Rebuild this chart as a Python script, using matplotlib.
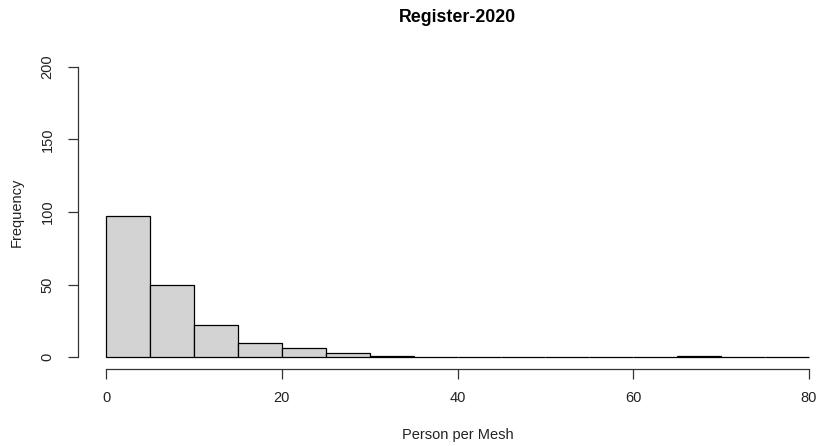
import matplotlib
matplotlib.use("Agg")
import matplotlib.pyplot as plt
import numpy as np

plt.rcParams['font.family'] = ['Liberation Sans', 'DejaVu Sans']

# Histogram bins (width 5) and counts per bin
bin_edges = [0, 5, 10, 15, 20, 25, 30, 35, 40, 45, 50, 55, 60, 65, 70, 75, 80]
counts = [97, 50, 22, 10, 6, 3, 1, 0, 0, 0, 0, 0, 0, 1, 0, 0]
x_ticks = [0, 20, 40, 60, 80]
y_ticks = [0, 50, 100, 150, 200]
title = "Register-2020"
x_label = "Person per Mesh"
y_label = "Frequency"

W, H = 822, 446
fig = plt.figure(figsize=(W / 100, H / 100), dpi=100)
left, right = 78, 837
top, bottom = 55.4, 368.6
ax = fig.add_axes([left / W, (H - bottom) / H, (right - left) / W, (bottom - top) / H])

lefts = bin_edges[:-1]
widths = np.diff(bin_edges)
ax.bar(lefts, counts, width=widths, align='edge', color='#D3D3D3',
       edgecolor='black', linewidth=0.9)

ax.set_xlim(-3.2, 83.2)
ax.set_ylim(-8, 208)

for s in ['top', 'right']:
    ax.spines[s].set_visible(False)
ax.spines['bottom'].set_bounds(0, 80)
ax.spines['left'].set_bounds(0, 200)
for s in ['bottom', 'left']:
    ax.spines[s].set_color('#333333')
    ax.spines[s].set_linewidth(0.9)

ax.set_xticks(x_ticks)
ax.set_yticks(y_ticks)
ax.set_yticklabels([str(v) for v in y_ticks], rotation=90, va='center')
ax.tick_params(axis='both', length=7, width=0.9, color='#333333',
               labelsize=10.5, labelcolor='#222222')
ax.tick_params(axis='x', pad=9)
ax.tick_params(axis='y', pad=10)

fig.text((left + right) / 2 / W, 1 - 18 / H, title, ha='center', va='center',
         fontsize=12.8, fontweight='bold')
fig.text((left + right) / 2 / W, 1 - 435 / H, x_label, ha='center', va='center',
         fontsize=10.5, color='#222222')
fig.text(17 / W, 1 - 212 / H, y_label, ha='center', va='center', rotation=90,
         fontsize=10.5, color='#222222')

fig.savefig("out.png", dpi=100)
